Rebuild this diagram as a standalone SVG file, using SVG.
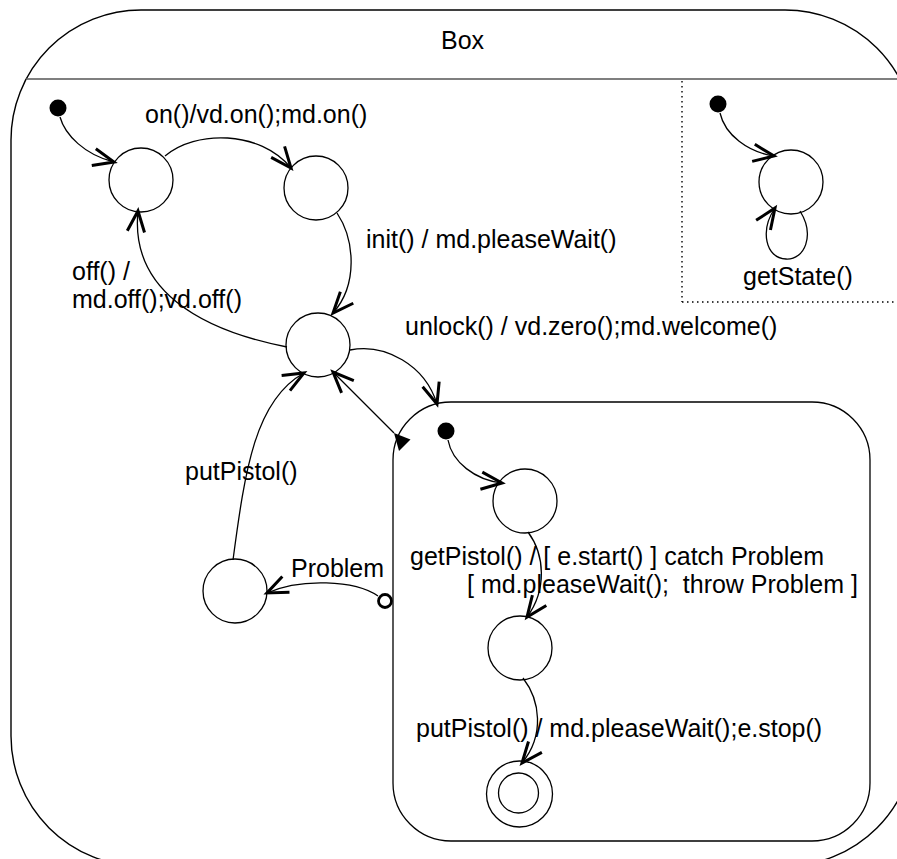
<svg xmlns="http://www.w3.org/2000/svg" width="897" height="859" viewBox="0 0 897 859">
<style>
  text { font-family: "Liberation Sans", Arial, sans-serif; font-size: 25px; fill: #000; white-space: pre; }
  .state { fill: #fff; stroke: #000; stroke-width: 1.3; }
  .frame { fill: #fff; stroke: #000; stroke-width: 1.4; }
  .init { fill: #000; stroke: none; }
  .edge { fill: none; stroke: #000; stroke-width: 1.3; }
  .dot { fill: none; stroke: #000; stroke-width: 1.4; stroke-dasharray: 1.5 3.5; }
</style>
<defs>
  <marker id="open" markerUnits="userSpaceOnUse" markerWidth="30" markerHeight="30" refX="0" refY="0" viewBox="-22 -12 26 24" orient="auto">
    <path d="M -18 -7.5 L 0 0 L -18 7.5" fill="none" stroke="#000" stroke-width="2.6"/>
  </marker>
  <marker id="openStart" markerUnits="userSpaceOnUse" markerWidth="30" markerHeight="30" refX="0" refY="0" viewBox="-22 -12 26 24" orient="auto-start-reverse">
    <path d="M -18 -7.5 L 0 0 L -18 7.5" fill="none" stroke="#000" stroke-width="2.6"/>
  </marker>
</defs>

<g id="box">
  <rect class="frame" x="11" y="10" width="904" height="856" rx="130" ry="130"/>
  <line x1="26" y1="79" x2="897" y2="79" stroke="#555" stroke-width="1.6"/>
  <text x="441" y="49">Box</text>
</g>

<g id="region2">
  <line class="dot" x1="682" y1="81" x2="682" y2="302"/>
  <line class="dot" x1="682" y1="302" x2="897" y2="302"/>
</g>

<g id="composite">
  <rect class="state" x="393" y="402" width="477" height="439" rx="58" ry="58"/>
</g>

<g id="init1"><circle class="init" cx="58" cy="108" r="8.5"/></g>
<g id="stateA"><circle class="state" cx="141" cy="180" r="32"/></g>
<g id="stateB"><circle class="state" cx="316" cy="188" r="32"/></g>
<g id="stateC"><circle class="state" cx="318" cy="345" r="32"/></g>
<g id="stateD"><circle class="state" cx="235" cy="591" r="32"/></g>
<g id="init2"><circle class="init" cx="718" cy="104" r="8.5"/></g>
<g id="stateG"><circle class="state" cx="791" cy="182" r="32"/></g>
<g id="init3"><circle class="init" cx="446" cy="431" r="8.5"/></g>
<g id="stateE"><circle class="state" cx="525" cy="501" r="32"/></g>
<g id="stateF"><circle class="state" cx="520" cy="648" r="32"/></g>
<g id="final">
  <circle class="state" cx="519.5" cy="794" r="33"/>
  <circle class="state" cx="518.5" cy="793" r="20"/>
</g>

<g id="connectors">
  <path class="edge" d="M60,117 C65,135 85,155 114,162" marker-end="url(#open)"/>
  <path class="edge" d="M165,156 C195,130 260,130 291,168" marker-end="url(#open)"/>
  <path class="edge" d="M337,213 C355,240 358,285 333,313" marker-end="url(#open)"/>
  <path class="edge" d="M287,347 C200,330 130,290 138,211" marker-end="url(#open)"/>
  <path class="edge" d="M350,350 C385,343 425,365 437,404" marker-end="url(#open)"/>
  <path class="edge" d="M233,560 C245,470 255,400 304,373" marker-end="url(#open)"/>
  <line class="edge" x1="333" y1="372" x2="394" y2="433" marker-start="url(#openStart)"/>
  <polygon points="394,433 410.5,439.5 399,451" fill="#000"/>
  <path class="edge" d="M378,596 C355,580 300,578 267,593" marker-end="url(#open)"/>
  <circle cx="385" cy="601" r="6.5" fill="#fff" stroke="#000" stroke-width="2.8"/>
  <path class="edge" d="M448,440 C452,462 475,480 502,483" marker-end="url(#open)"/>
  <path class="edge" d="M528,532 C545,555 547,590 527,617" marker-end="url(#open)"/>
  <path class="edge" d="M523,678 C540,700 545,735 522,763" marker-end="url(#open)"/>
  <path class="edge" d="M720,113 C725,135 748,152 774,156" marker-end="url(#open)"/>
  <path class="edge" d="M800,211 C815,235 805,260 786,259 C765,258 760,230 775,208" marker-end="url(#open)"/>
</g>

<g id="labels">
  <text x="145" y="123">on()/vd.on();md.on()</text>
  <text x="366" y="248">init() / md.pleaseWait()</text>
  <text x="72" y="280">off() /</text>
  <text x="72" y="308">md.off();vd.off()</text>
  <text x="405" y="335">unlock() / vd.zero();md.welcome()</text>
  <text x="743" y="285">getState()</text>
  <text x="185" y="480">putPistol()</text>
  <text x="291" y="577">Problem</text>
  <text x="410" y="565">getPistol() / [ e.start() ] catch Problem</text>
  <text x="467" y="593">[ md.pleaseWait();  throw Problem ]</text>
  <text x="416" y="737">putPistol() / md.pleaseWait();e.stop()</text>
</g>
</svg>
